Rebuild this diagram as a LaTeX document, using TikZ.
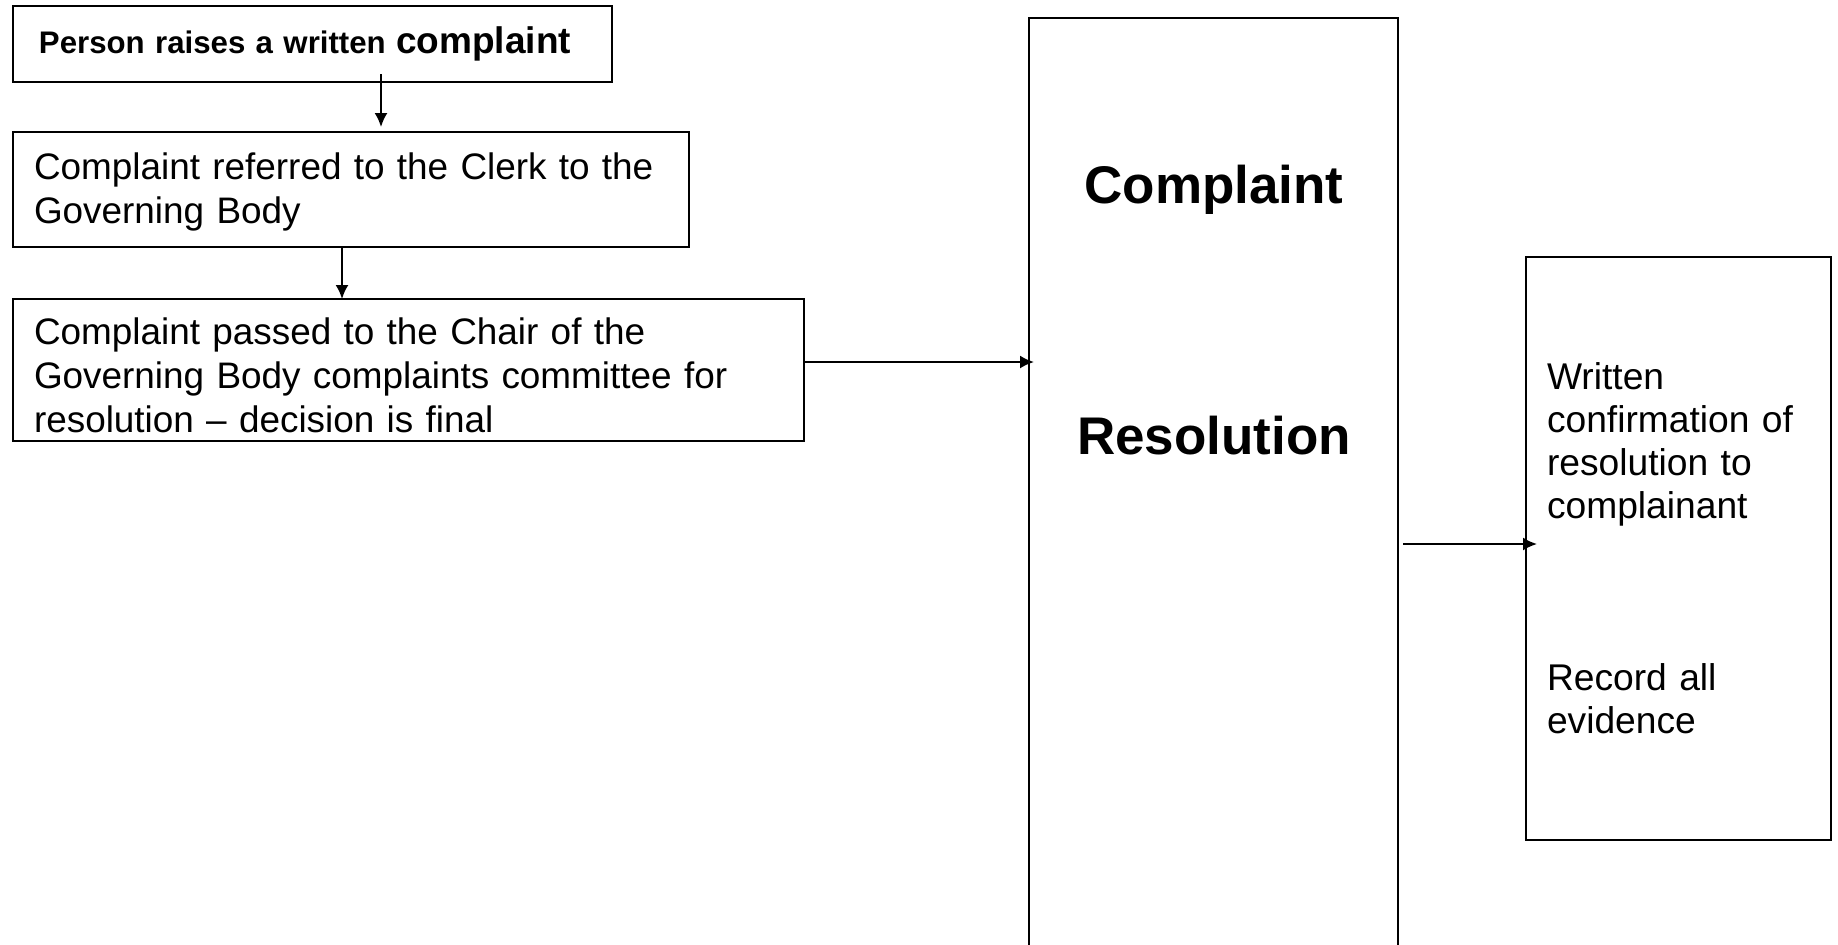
\documentclass[tikz,border=0pt]{standalone}
\usepackage{fontspec}
\setmainfont{Liberation Sans}
\usetikzlibrary{calc, arrows.meta}
\newlength\px
\setlength\px{0.5pt}
\tikzset{stepbox/.style={draw, line width=0.85pt, anchor=north west, align=left,
    inner ysep=0pt, outer sep=0pt, font=\fontsize{18.45}{22}\selectfont},
  flow/.style={line width=1pt, -{Latex[length=7pt, width=6.5pt]}}}

\begin{document}
\begin{tikzpicture}[x=0.5pt, y=-0.5pt]
      \useasboundingbox (0,0) rectangle (1838,944);
      % Steps on the left
      \node[stepbox, text width=547\px, inner xsep=26\px, minimum height=76\px,
        font=\fontsize{15.6}{19}\selectfont\bfseries] (raise) at (13,6)
        {Person raises a written {\fontsize{18.5}{22}\selectfont complaint}};
      \node[stepbox, text width=634\px, inner xsep=21\px, minimum height=115\px] (clerk) at (13,132)
        {\rule{0pt}{16pt}Complaint referred to the Clerk to the\\Governing Body};
      \node[stepbox, text width=749\px, inner xsep=21\px, minimum height=142\px] (chair) at (13,299)
        {\rule{0pt}{19pt}Complaint passed to the Chair of the\\Governing Body complaints committee for\\resolution -- decision is final};

      % Resolution column
      \node[draw, line width=0.85pt, anchor=north west, inner sep=0pt, outer sep=0pt,
        minimum width=369\px, minimum height=942\px] (res) at (1029,18) {};
      \node[font=\fontsize{26.5}{30.5}\selectfont\bfseries, align=center] (restitle) at (1214,310)
        {Complaint\\[95pt]Resolution};

      % Outcome
      \node[stepbox, text width=263\px, inner xsep=21\px, minimum height=583\px,
        font=\fontsize{18.6}{21.5}\selectfont] (outcome) at (1526,257)
        {Written\\confirmation of\\resolution to\\complainant\\[64.5pt]Record all\\evidence};

      % Arrows
      \draw[flow] ([shift={(368,-8)}]raise.south west) -- ([shift={(368,-5)}]clerk.north west);
      \draw[flow] ([xshift=329\px]clerk.south west) -- ([xshift=329\px]chair.north west);
      \draw[flow, shorten >=-2.5pt] ([yshift=4pt]chair.east) coordinate (c) -- (c -| res.west);
      \draw[flow, shorten >=-5.5pt] ([shift={(5,55)}]res.east) coordinate (r) -- (r -| outcome.west);
\end{tikzpicture}
\end{document}
